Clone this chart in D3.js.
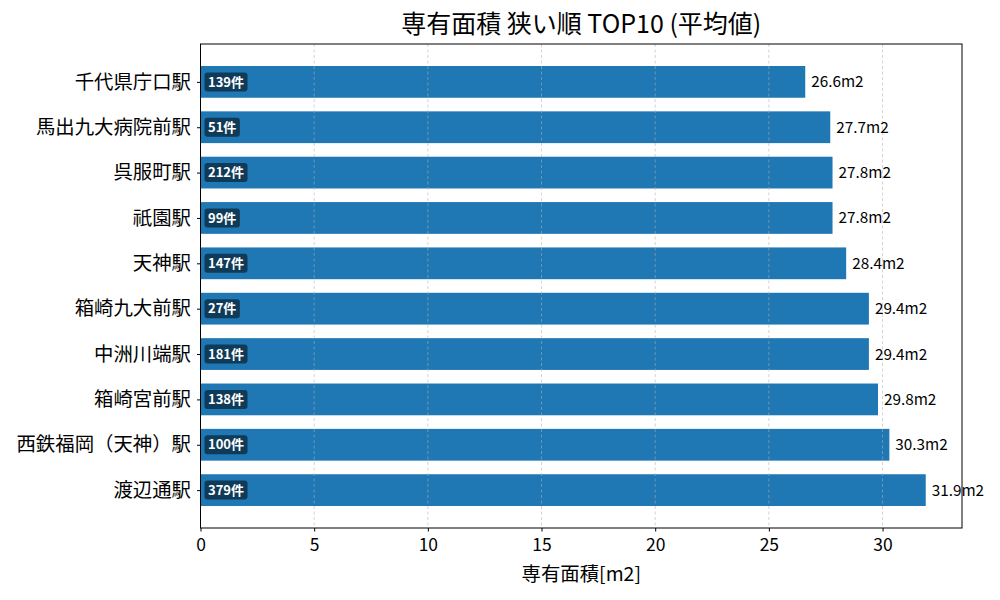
<!DOCTYPE html>
<html><head><meta charset="utf-8">
<script src="https://cdn.jsdelivr.net/npm/d3@7/dist/d3.min.js"></script>
<style>
html,body{margin:0;padding:0;background:#fff;}
svg{display:block;font-family:"Noto Sans CJK JP","Noto Sans",sans-serif;}
</style></head>
<body><svg id="chart" width="1000" height="600"></svg>
<script>
const stations = ["千代県庁口駅","馬出九大病院前駅","呉服町駅","祇園駅","天神駅","箱崎九大前駅","中洲川端駅","箱崎宮前駅","西鉄福岡（天神）駅","渡辺通駅"];
const areas = [26.6, 27.7, 27.8, 27.8, 28.4, 29.4, 29.4, 29.8, 30.3, 31.9];
const counts = [139, 51, 212, 99, 147, 27, 181, 138, 100, 379];
const xTicks = [0, 5, 10, 15, 20, 25, 30];
const titleText = "専有面積 狭い順 TOP10 (平均値)";
const xLabelText = "専有面積[m2]";

const svg = d3.select("#chart");
const L = 200.5, R = 962, T = 44, B = 528;
const n = stations.length;
const barH = 0.7;
const x = d3.scaleLinear().domain([0, d3.max(areas) * 1.05]).range([L, R]);
const pad = (n - 1 + barH) * 0.05 + barH / 2;
const y = d3.scaleLinear().domain([-pad, n - 1 + pad]).range([T, B]);
const unit = y(1) - y(0);

const data = stations.map((s, i) => ({s, v: areas[i], c: counts[i], i}));

svg.append("g").selectAll("rect").data(data).join("rect")
  .attr("x", x(0)).attr("y", d => y(d.i) - unit * barH / 2)
  .attr("width", d => x(d.v) - x(0)).attr("height", unit * barH)
  .attr("fill", "#1f77b4");

svg.append("g").selectAll("line").data(xTicks).join("line")
  .attr("x1", d => x(d)).attr("x2", d => x(d)).attr("y1", T).attr("y2", B)
  .attr("stroke", "#b0b0b0").attr("stroke-opacity", 0.7).attr("stroke-width", 0.8)
  .attr("stroke-dasharray", "3,2.5");

const cg = svg.append("g").selectAll("g").data(data).join("g")
  .attr("transform", d => `translate(${x(0) + 4},${y(d.i)})`);
cg.append("text")
  .attr("x", 3.5).attr("y", 0).attr("dy", "0.36em")
  .attr("font-size", 13).attr("font-weight", "bold").attr("fill", "#fff")
  .text(d => d.c + "件");
cg.each(function() {
  const g = d3.select(this);
  const bb = g.select("text").node().getBBox();
  g.insert("rect", "text").attr("x", 0).attr("y", -9.5)
    .attr("width", bb.width + 7).attr("height", 19).attr("rx", 3)
    .attr("fill", "#0e3651").attr("fill-opacity", 0.92);
});

svg.append("g").selectAll("text").data(data).join("text")
  .attr("x", d => x(d.v) + 6).attr("y", d => y(d.i)).attr("dy", "0.36em")
  .attr("font-size", 15.3).attr("fill", "#000")
  .text(d => d.v.toFixed(1) + "m2");

svg.append("rect").attr("x", L).attr("y", T).attr("width", R - L).attr("height", B - T)
  .attr("fill", "none").attr("stroke", "#000").attr("stroke-width", 1);

const xa = svg.append("g").attr("transform", `translate(0,${B})`)
  .call(d3.axisBottom(x).tickValues(xTicks).tickSize(3.5).tickPadding(7.5).tickFormat(d3.format("d")));
xa.select(".domain").remove();
xa.selectAll("text").attr("font-size", 17.5).attr("fill", "#000").attr("font-family", "'Noto Sans CJK JP', sans-serif");
xa.selectAll("line").attr("stroke", "#000");

const ya = svg.append("g").attr("transform", `translate(${L},0)`)
  .call(d3.axisLeft(d3.scalePoint().domain(stations).range([y(0), y(n - 1)])).tickSize(3.5).tickPadding(6));
ya.select(".domain").remove();
ya.selectAll("text").attr("font-size", 19.4).attr("fill", "#000").attr("font-family", "'Noto Sans CJK JP', sans-serif");
ya.selectAll("line").attr("stroke", "#000");

svg.append("text").attr("x", (L + R) / 2).attr("y", 33).attr("text-anchor", "middle")
  .attr("font-size", 25).attr("fill", "#000").text(titleText);
svg.append("text").attr("x", (L + R) / 2).attr("y", 581).attr("text-anchor", "middle")
  .attr("font-size", 19.4).attr("fill", "#000").text(xLabelText);
</script></body></html>
